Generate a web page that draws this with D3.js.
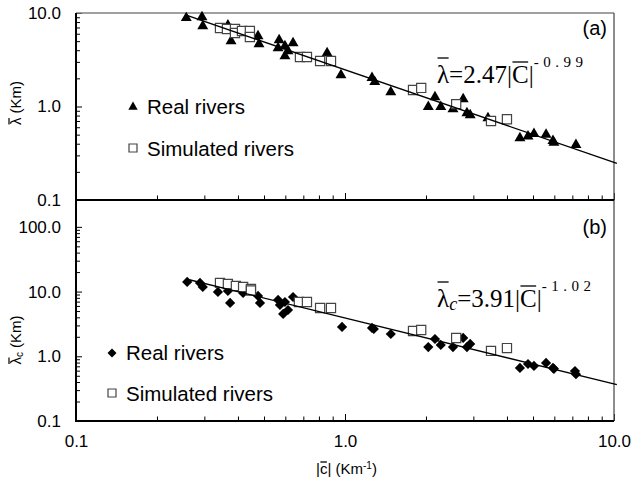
<!DOCTYPE html>
<html>
<head>
<meta charset="utf-8">
<script src="https://cdn.jsdelivr.net/npm/d3@7"></script>
<style>
  body { margin: 0; background: #fff; }
  text { font-family: "Liberation Sans", Arial, sans-serif; fill: #000; }
  .serif { font-family: "Liberation Serif", "Times New Roman", serif; }
</style>
</head>
<body>
<svg id="chart" width="634" height="485"></svg>
<script>
// ---- data ----
// panel (a): mean wavelength vs |c|
const realX_a = [0.257, 0.294, 0.296, 0.367, 0.377, 0.475, 0.479, 0.564, 0.569, 0.598, 0.598, 0.614, 0.641,
                 0.858, 0.966, 1.26, 1.29, 1.48, 2.04, 2.16, 2.27, 2.52, 2.75, 2.84, 2.92, 3.40,
                 4.47, 4.79, 5.04, 5.59, 5.93, 5.98, 7.22];
const realY_a = [8.85, 9.06, 7.26, 7.4, 5.02, 5.68, 4.66, 4.22, 5.14, 4.44, 3.47, 3.92, 4.78,
                 3.73, 2.17, 2.02, 1.83, 1.43, 0.99, 1.26, 0.99, 0.94, 1.20, 0.85, 0.81, 0.75,
                 0.46, 0.48, 0.51, 0.50, 0.43, 0.41, 0.39];
const simX_a = [0.343, 0.364, 0.390, 0.390, 0.414, 0.443, 0.443, 0.680, 0.722, 0.808, 0.887,
                1.79, 1.92, 2.59, 3.49, 4.00];
const simY_a = [6.91, 6.74, 6.74, 6.11, 6.42, 6.42, 5.54, 3.38, 3.38, 3.07, 3.07,
                1.50, 1.58, 1.06, 0.70, 0.73];

// panel (b): lambda_c vs |c|
const realX_b = [0.259, 0.289, 0.296, 0.337, 0.367, 0.374, 0.418, 0.475, 0.483, 0.564, 0.573, 0.598, 0.641,
                 0.589, 0.614, 0.975, 1.26, 1.28, 1.48, 2.16, 2.04, 2.27, 2.52, 2.75, 2.84, 2.92,
                 4.47, 4.79, 5.04, 5.59, 5.93, 5.98, 7.16, 7.22];
const realY_b = [14.1, 13.6, 11.8, 9.86, 10.2, 6.67, 9.52, 8.55, 6.67, 7.42, 6.21, 6.90, 8.25,
                 4.51, 5.19, 2.84, 2.74, 2.64, 2.21, 1.85, 1.39, 1.50, 1.39, 1.92, 1.39, 1.55,
                 0.66, 0.76, 0.71, 0.79, 0.66, 0.64, 0.59, 0.53];
const simX_b = [0.343, 0.367, 0.393, 0.418, 0.447, 0.447, 0.674, 0.722, 0.808, 0.887,
                1.79, 1.92, 2.59, 3.49, 4.00];
const simY_b = [13.6, 13.1, 12.2, 11.8, 11.0, 10.4, 6.90, 6.90, 5.58, 5.58,
                2.46, 2.55, 1.92, 1.21, 1.34];

// fitted power laws shown on the chart
const fit_a = [2.47, -0.99];
const fit_b = [3.91, -1.02];
const fitRange = [0.257, 10.25];

const xTicks = [0.1, 1, 10];
const yTicks_a = [0.1, 1, 10];
const yTicks_b = [0.1, 1, 10, 100];

// ---- layout ----
const svg = d3.select('#chart');
const left = 76, right = 614, topA = 13, midY = 200, botB = 421;

const x = d3.scaleLog().domain([0.1, 10]).range([left, right]);
const yA = d3.scaleLog().domain([0.1, 10]).range([midY, topA]);
const yB = d3.scaleLog().domain([0.1, 260]).range([botB, midY]);

function minors(lo, hi) {
  const out = [];
  for (let p = lo; p < hi; p *= 10)
    for (let k = 2; k <= 9; k++) out.push(p * k);
  return out;
}

function yAxes(scale, majors, minorHi) {
  svg.append('g').attr('transform', `translate(${left},0)`)
    .call(d3.axisLeft(scale).tickValues(minors(0.1, minorHi)).tickSizeInner(-4).tickSizeOuter(0).tickFormat(''))
    .call(g => g.select('.domain').remove());
  svg.append('g').attr('transform', `translate(${left},0)`)
    .call(d3.axisLeft(scale).tickValues(majors).tickSizeInner(-6).tickSizeOuter(0)
      .tickPadding(15).tickFormat(d3.format('.1f')))
    .call(g => g.select('.domain').remove())
    .call(g => g.selectAll('text').style('font-size', '17px').style('font-family', '"Liberation Sans", Arial, sans-serif'));
}

function xAxis(yPos, labels) {
  svg.append('g').attr('transform', `translate(0,${yPos})`)
    .call(d3.axisBottom(x).tickValues(minors(0.1, 10)).tickSizeInner(-4.5).tickSizeOuter(0).tickFormat(''))
    .call(g => g.select('.domain').remove());
  const g = svg.append('g').attr('transform', `translate(0,${yPos})`)
    .call(d3.axisBottom(x).tickValues(xTicks).tickSizeInner(-7).tickSizeOuter(0).tickPadding(14)
      .tickFormat(labels ? d3.format('.1f') : ''))
    .call(g => g.select('.domain').remove());
  g.selectAll('text').style('font-size', '17px').style('font-family', '"Liberation Sans", Arial, sans-serif');
}

yAxes(yA, yTicks_a, 10);
yAxes(yB, yTicks_b, 100);
xAxis(midY, false);
xAxis(botB, true);

// frame
svg.append('line').attr('x1', left).attr('x2', right).attr('y1', topA).attr('y2', topA)
  .attr('stroke', '#808080').attr('stroke-width', 1.5);
svg.append('line').attr('x1', right).attr('x2', right).attr('y1', topA).attr('y2', botB)
  .attr('stroke', '#505050').attr('stroke-width', 1.3);
svg.append('line').attr('x1', left).attr('x2', left).attr('y1', topA).attr('y2', botB)
  .attr('stroke', '#000').attr('stroke-width', 2);
[midY, botB].forEach(yy => svg.append('line').attr('x1', left - 1).attr('x2', right).attr('y1', yy).attr('y2', yy)
  .attr('stroke', '#000').attr('stroke-width', 2));

// markers
const tri = d3.symbol(d3.symbolTriangle, 52)();
const sq = d3.symbol(d3.symbolSquare, 84)();
const dia = d3.symbol(d3.symbolSquare, 52)();

function points(xs, ys, yScale, path, cls, rot) {
  svg.append('g').selectAll('path').data(xs).join('path')
    .attr('d', path)
    .attr('transform', (d, i) => `translate(${x(d)},${yScale(ys[i])})` + (rot ? ' rotate(45)' : ''))
    .attr('fill', cls === 'sim' ? '#fff' : '#000')
    .attr('stroke', cls === 'sim' ? '#444' : 'none')
    .attr('stroke-width', 1.2);
}

points(realX_a, realY_a, yA, tri, 'real', false);
points(simX_a, simY_a, yA, sq, 'sim', false);
points(realX_b, realY_b, yB, dia, 'real', true);
points(simX_b, simY_b, yB, sq, 'sim', false);

// fit lines
const line = d3.line();
function fitLine(fit, yScale) {
  svg.append('path')
    .attr('d', line(fitRange.map(v => [x(v), yScale(fit[0] * Math.pow(v, fit[1]))])))
    .attr('fill', 'none').attr('stroke', '#000').attr('stroke-width', 1.4);
}
fitLine(fit_a, yA);
fitLine(fit_b, yB);

// legends
function legend(mx, y1, y2, path, rot) {
  svg.append('path').attr('d', path)
    .attr('transform', `translate(${mx},${y1})` + (rot ? ' rotate(45)' : '')).attr('fill', '#000');
  svg.append('path').attr('d', d3.symbol(d3.symbolSquare, 64)())
    .attr('transform', `translate(${mx},${y2})`).attr('fill', '#fff').attr('stroke', '#444').attr('stroke-width', 1.2);
  svg.append('text').attr('x', mx + 14).attr('y', y1 + 7).style('font-size', '20.5px').text('Real rivers');
  svg.append('text').attr('x', mx + 14).attr('y', y2 + 8).style('font-size', '20.5px').text('Simulated rivers');
}
legend(133, 107, 148, d3.symbol(d3.symbolTriangle, 38)(), false);
legend(112, 353, 393, d3.symbol(d3.symbolSquare, 40)(), true);

// panel letters
svg.append('text').attr('x', 607).attr('y', 35).attr('text-anchor', 'end').style('font-size', '20px').text('(a)');
svg.append('text').attr('x', 607).attr('y', 234).attr('text-anchor', 'end').style('font-size', '20px').text('(b)');

// formulas
function overbar(textSel, idx, dy) {
  const node = textSel.node();
  const e = node.getExtentOfChar(idx);
  const by = +textSel.attr('y') - dy;
  svg.append('line').attr('x1', e.x + 0.5).attr('x2', e.x + e.width - 0.5).attr('y1', by).attr('y2', by)
    .attr('stroke', '#000').attr('stroke-width', 1.3);
}

const fa = svg.append('text').attr('class', 'serif').attr('x', 437).attr('y', 83).style('font-size', '25px');
fa.append('tspan').text('λ=2.47|C|');
fa.append('tspan').attr('dy', -16).style('font-size', '15px').style('letter-spacing', '4.5px').text('-0.99');
overbar(fa, 0, 25);
overbar(fa, 7, 21);

const fb = svg.append('text').attr('class', 'serif').attr('x', 437).attr('y', 307).style('font-size', '25px');
fb.append('tspan').text('λ');
fb.append('tspan').attr('dy', 3).style('font-size', '18px').style('font-style', 'italic').text('c');
fb.append('tspan').attr('dy', -3).text('=3.91|C|');
fb.append('tspan').attr('dy', -16).style('font-size', '15px').style('letter-spacing', '4.5px').text('-1.02');
overbar(fb, 0, 25);
overbar(fb, 8, 21);

// axis titles
const xt = svg.append('text').attr('x', 316).attr('y', 474).style('font-size', '15px');
xt.append('tspan').text('|c| (Km');
xt.append('tspan').attr('dy', -5).style('font-size', '10px').text('-1');
xt.append('tspan').attr('dy', 5).text(')');
overbar(xt, 1, 12);

function yTitle(cy, sub) {
  const t = svg.append('text').attr('transform', `translate(21,${cy}) rotate(-90)`)
    .attr('text-anchor', 'middle').style('font-size', '15px');
  t.append('tspan').text('λ');
  if (sub) t.append('tspan').attr('dy', 2).style('font-size', '10px').text('c');
  t.append('tspan').attr('dy', sub ? -2 : 0).text(' (Km)');
  const e = t.node().getExtentOfChar(0);
  t.append('tspan'); // keep structure simple
  const g = svg.append('line')
    .attr('transform', `translate(21,${cy}) rotate(-90)`)
    .attr('x1', e.x + 0.5).attr('x2', e.x + e.width - 0.5).attr('y1', -12).attr('y2', -12)
    .attr('stroke', '#000').attr('stroke-width', 1.2);
}
yTitle(103, false);
yTitle(340, true);
</script>
</body>
</html>
